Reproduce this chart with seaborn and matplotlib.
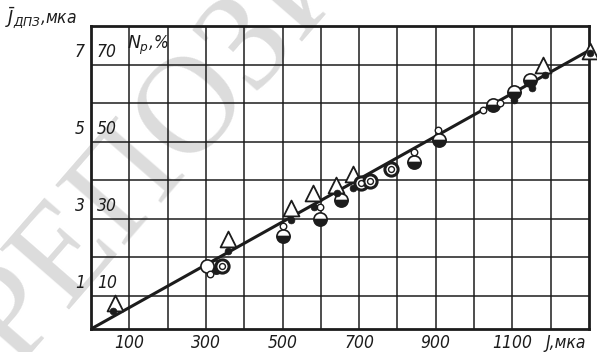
import matplotlib
matplotlib.use("Agg")
import matplotlib.pyplot as plt
import seaborn as sns
import pandas as pd

# ---- data ----
tri_x = [63, 357, 521, 579, 639, 684, 1181, 1302]
tri_y = [0.82, 2.48, 3.29, 3.68, 3.88, 4.17, 7.00, 7.36]

dot_x = [58, 357, 521, 581, 642, 684, 1105, 1150, 1184, 1302]
dot_y = [0.61, 2.17, 2.97, 3.31, 3.68, 3.81, 6.09, 6.38, 6.74, 7.31]

half_x = [325, 500, 597, 652, 843, 909, 1050, 1105, 1145]
half_y = [1.75, 2.56, 3.00, 3.49, 4.48, 5.03, 5.94, 6.30, 6.61]

ring_x = [343, 705, 728, 783]
ring_y = [1.78, 3.94, 3.99, 4.30]

open_x = [302]
open_y = [1.78]

small_x = [310, 500, 597, 843, 906, 1024, 1068]
small_y = [1.57, 2.82, 3.31, 4.74, 5.29, 5.81, 6.01]

fit_x = [0, 1310]
fit_y = [0.14, 7.42]

x_tick_vals = [100, 300, 500, 700, 900, 1100]
y_tick_vals = [1, 3, 5, 7]
y_tick_labels = ["1", "3", "5", "7"]
np_tick_labels = ["10", "30", "50", "70"]

x_label = "J,мка"
y_label = r"$\bar{J}_{ДПЗ}$,мка"
np_label = r"$N_{р}$,%"
watermark = "РЕПОЗИТОРИЙ"

# ---- style ----
sns.set_style("white")
plt.rcParams["font.family"] = ["DejaVu Sans"]
plt.rcParams["mathtext.fontset"] = "dejavusans"

INK = "#1c1c1c"
fig = plt.figure(figsize=(5.97, 3.52), dpi=100)
fig.patch.set_facecolor("white")

# watermark behind the chart
fig.text(0.025, -0.045, watermark, rotation=49, rotation_mode="anchor",
         fontsize=100, family="Liberation Serif", color="#dcdcdc",
         ha="left", va="baseline", zorder=0)

ax = fig.add_axes([91 / 597, 1 - 329 / 352, (589 - 91) / 597, (329 - 26) / 352])
ax.set_zorder(2)
ax.patch.set_visible(False)
ax.set_xlim(0, 1300)
ax.set_ylim(0.14, 8.0)

ax.set_xticks(range(100, 1300, 100))
ax.set_yticks(range(1, 8))
ax.grid(True, color=INK, linewidth=1.1)
ax.tick_params(length=0, labelleft=False, labelbottom=False)
for s in ax.spines.values():
    s.set_color(INK)
    s.set_linewidth(2.0)

# fitted line
fit_df = pd.DataFrame({"x": fit_x, "y": fit_y})
sns.lineplot(data=fit_df, x="x", y="y", ax=ax, color=INK, linewidth=2.2,
             zorder=3, clip_on=True)

# triangles
sns.scatterplot(x=tri_x, y=tri_y, ax=ax, marker="^", s=130, facecolor="white",
                edgecolor=INK, linewidth=1.3, zorder=4, clip_on=False)
# filled dots
sns.scatterplot(x=dot_x, y=dot_y, ax=ax, marker="o", s=24, color=INK,
                edgecolor=INK, linewidth=0.5, zorder=5, clip_on=False)
# half-filled circles
ax.plot(half_x, half_y, linestyle="none", marker="o", markersize=9.5,
        fillstyle="bottom", markerfacecolor=INK, markerfacecoloralt="white",
        markeredgecolor=INK, markeredgewidth=1.2, zorder=4)
# ring circles
sns.scatterplot(x=ring_x, y=ring_y, ax=ax, marker="o", s=90, facecolor="white",
                edgecolor=INK, linewidth=2.2, zorder=4)
sns.scatterplot(x=ring_x, y=ring_y, ax=ax, marker="o", s=18, facecolor="white",
                edgecolor=INK, linewidth=1.0, zorder=5)
# large open circle
sns.scatterplot(x=open_x, y=open_y, ax=ax, marker="o", s=90, facecolor="white",
                edgecolor=INK, linewidth=1.2, zorder=4)
# small open circles
sns.scatterplot(x=small_x, y=small_y, ax=ax, marker="o", s=22, facecolor="white",
                edgecolor=INK, linewidth=1.0, zorder=4)

ax.set_xlabel("")
ax.set_ylabel("")

tk = dict(fontsize=12.5, style="italic", color=INK, stretch="condensed")

# x tick labels
for v in x_tick_vals:
    ax.text(v, -0.018, str(v), transform=ax.get_xaxis_transform(),
            ha="center", va="top", **tk)
ax.text(1292, -0.018, x_label, transform=ax.get_xaxis_transform(),
        ha="right", va="top", **tk)

# y tick labels (left of frame) and Np labels (inside frame)
for v, l1, l2 in zip(y_tick_vals, y_tick_labels, np_tick_labels):
    ax.text(-0.012, v + 0.1, l1, transform=ax.get_yaxis_transform(),
            ha="right", va="bottom", **tk)
    ax.text(0.012, v + 0.1, l2, transform=ax.get_yaxis_transform(),
            ha="left", va="bottom", **tk)

ax.text(0.072, 7.2, np_label, transform=ax.get_yaxis_transform(),
        ha="left", va="bottom", **tk)
fig.text(5 / 597, 1 - 31 / 352, y_label, ha="left", va="bottom", **tk)

fig.savefig("out.png", dpi=100, facecolor="white")
